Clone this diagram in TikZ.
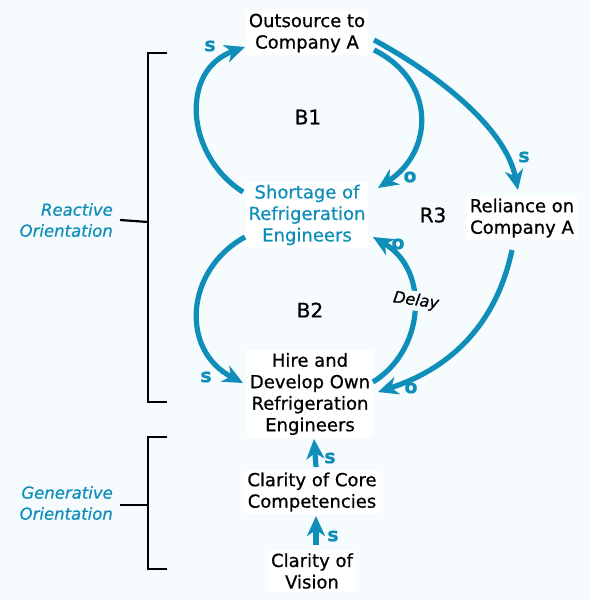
\documentclass[tikz,border=0pt]{standalone}
\usepackage{fontspec}
\setmainfont{DejaVu Sans}[FakeBold=0.7]
\usetikzlibrary{arrows.meta}
\definecolor{loopc}{RGB}{16,142,186}
\definecolor{bgc}{RGB}{246,251,253}
\begin{document}
\begin{tikzpicture}[x=1pt,y=-1pt,
  var/.style={fill=white, align=center, font=\fontsize{18}{21.5}\selectfont, inner sep=3pt},
  link/.style={draw=loopc, line width=5.2pt, -{Stealth[length=20pt,width=18pt,inset=6pt]}},
  pol/.style={text=loopc, font=\fontsize{19}{19}\selectfont\bfseries, inner sep=0pt},
  loopname/.style={font=\fontsize{20}{20}\selectfont, inner sep=0pt},
  side/.style={text=loopc, align=right, anchor=east, font=\fontsize{16.5}{21}\selectfont\itshape, inner sep=0pt},
  brack/.style={draw=black, line width=2.2pt}]
\fill[bgc] (0,0) rectangle (589,600);
\useasboundingbox (0,0) rectangle (589,600);

% variables
\node[var] (out) at (307,33) {Outsource to\\Company A};
\node[var,text=loopc] (short) at (307,215) {Shortage of\\Refrigeration\\Engineers};
\node[var] (rel) at (522,218) {Reliance on\\Company A};
\node[var] (hire) at (310,394) {Hire and\\Develop Own\\Refrigeration\\Engineers};
\node[var] (core) at (312,492) {Clarity of Core\\Competencies};
\node[var] (vis) at (312,571) {Clarity of\\Vision};

% loop names
\node[loopname] (b1) at (308,117) {B1};
\node[loopname] (b2) at (310,310) {B2};
\node[loopname] (r3) at (433,215) {R3};

% connectors
\draw[link] ([shift={(-64,-23)}]short.center) .. controls (185,155) and (180,70) .. ([shift={(-62,14)}]out.center);
\draw[link] ([shift={(67,17)}]out.center) .. controls (435,80) and (435,150) .. ([shift={(71,-27)}]short.center);
\draw[link] ([shift={(67,7)}]out.center) .. controls (430,70) and (505,125) .. ([shift={(-4,-28)}]rel.center);
\draw[link] ([shift={(-62,22)}]short.center) .. controls (185,270) and (180,350) .. ([shift={(-67,-11)}]hire.center);
\draw[link] ([shift={(63,-12)}]hire.center) .. controls (425,350) and (430,270) .. ([shift={(66,22)}]short.center);
\draw[link] ([shift={(-10,32)}]rel.center) .. controls (495,330) and (445,370) .. ([shift={(68,-2)}]hire.center);
\draw[link] ([shift={(4,-25)}]core.center) -- ([shift={(4,45)}]hire.center);
\draw[link] ([shift={(4,-26)}]vis.center) -- ([shift={(4,24)}]core.center);

% delay
\node[fill=bgc, rotate=-8, font=\fontsize{16}{16}\selectfont\itshape, inner sep=2pt] (delay) at (416,301) {Delay};

% polarities
\node[pol] (p1) at (210,46) {s};
\node[pol] (p2) at (410,177) {o};
\node[pol] (p3) at (524,157) {s};
\node[pol] (p4) at (398,244) {o};
\node[pol] (p5) at (206,377) {s};
\node[pol] (p6) at (411,388) {o};
\node[pol] (p7) at (330,458) {s};
\node[pol] (p8) at (333,536) {s};

% brackets
\node[side] (react) at (113,220) {Reactive\\Orientation};
\node[side] (gen) at (113,503) {Generative\\Orientation};
\coordinate (r0) at (167,53);
\coordinate (r1) at (148,53);
\coordinate (r2) at (148,402);
\coordinate (r3b) at (167,402);
\coordinate (rt) at (148,222);
\draw[brack] (r0) -- (r1) -- (r2) -- (r3b);
\draw[brack] (react.east -| 120,0) -- (rt);
\coordinate (g0) at (167,437);
\coordinate (g1) at (148,437);
\coordinate (g2) at (148,569);
\coordinate (g3) at (167,569);
\coordinate (gt) at (148,505);
\draw[brack] (g0) -- (g1) -- (g2) -- (g3);
\draw[brack] (120,505) -- (gt);
\end{tikzpicture}
\end{document}
